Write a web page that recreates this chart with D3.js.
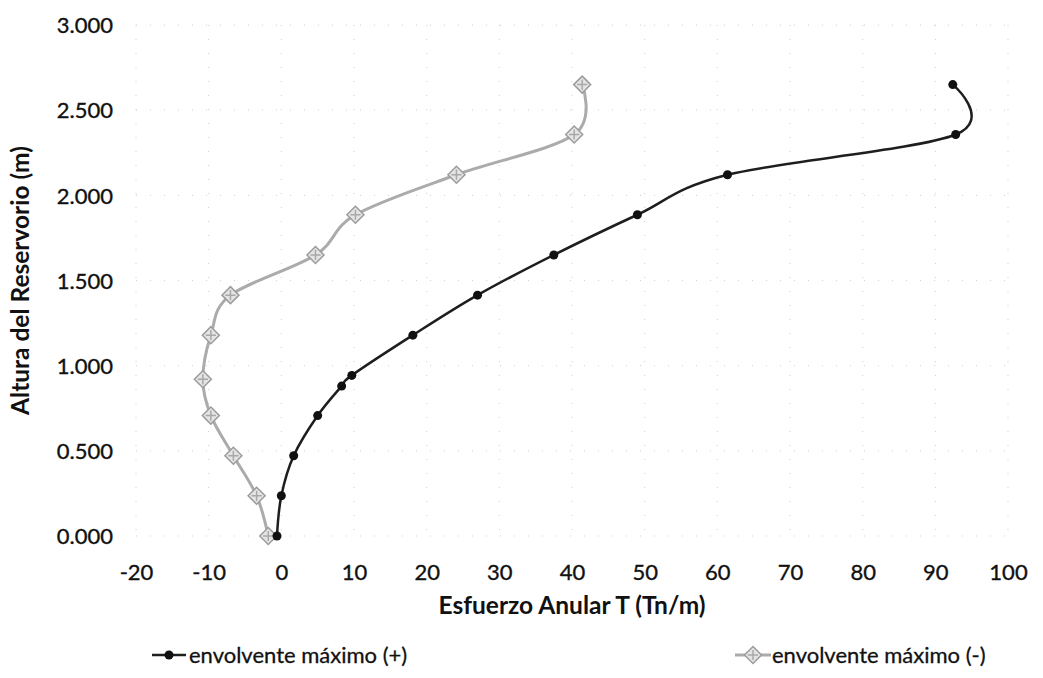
<!DOCTYPE html>
<html>
<head>
<meta charset="utf-8">
<script src="https://cdn.jsdelivr.net/npm/d3@7/dist/d3.min.js"></script>
<style>
  html, body { margin: 0; padding: 0; background: #fff; }
  svg { display: block; }
  text { font-family: Lato, "Open Sans", sans-serif; fill: #111; }
</style>
</head>
<body>
<svg id="chart" width="1043" height="678"></svg>
<script>
// ---- data ----
const heightsPos = [0, 0.236, 0.471, 0.707, 0.88, 0.943, 1.179, 1.414, 1.65, 1.886, 2.121, 2.357, 2.65];
const tensionPos = [-0.6, 0.0, 1.7, 5.0, 8.3, 9.7, 18.1, 27.0, 37.5, 49.0, 61.4, 92.8, 92.4];

const heightsNeg = [0, 0.236, 0.471, 0.707, 0.92, 1.179, 1.414, 1.65, 1.886, 2.121, 2.357, 2.65];
const tensionNeg = [-1.8, -3.4, -6.6, -9.7, -10.8, -9.7, -7.0, 4.7, 10.2, 24.1, 40.3, 41.4];

const xTicks = [-20, -10, 0, 10, 20, 30, 40, 50, 60, 70, 80, 90, 100];
const yTicks = [0, 0.5, 1.0, 1.5, 2.0, 2.5, 3.0];

const seriesNames = ["envolvente máximo (+)", "envolvente máximo (-)"];
const xTitle = "Esfuerzo Anular T (Tn/m)";
const yTitle = "Altura del Reservorio (m)";

// ---- layout ----
const svg = d3.select("#chart");
const mLeft = 136, mRight = 1008, mTop = 25, mBottom = 536;

const x = d3.scaleLinear().domain([-20, 100]).range([mLeft, mRight]);
const y = d3.scaleLinear().domain([0, 3]).range([mBottom, mTop]);

// faint dotted gridlines (scan shows them barely)
const grid = svg.append("g");
grid.selectAll("line.h").data(yTicks).enter().append("line")
  .attr("x1", mLeft).attr("x2", mRight)
  .attr("y1", d => y(d)).attr("y2", d => y(d))
  .attr("stroke", "#cfcfcf").attr("stroke-width", 1)
  .attr("stroke-dasharray", "1,13");
grid.selectAll("line.v").data(xTicks).enter().append("line")
  .attr("y1", mTop).attr("y2", mBottom)
  .attr("x1", d => x(d)).attr("x2", d => x(d))
  .attr("stroke", "#cfcfcf").attr("stroke-width", 1)
  .attr("stroke-dasharray", "1,13");

// axes via d3 axis generators, with lines hidden
const fmtY = d3.format(".3f");
const fmtX = d => String(d);
const xAxis = svg.append("g").attr("transform", `translate(0,${mBottom})`)
  .call(d3.axisBottom(x).tickValues(xTicks).tickSize(0).tickPadding(0).tickFormat(fmtX));
xAxis.select(".domain").remove();
xAxis.selectAll("text").attr("font-size", 22).attr("dy", 0).attr("y", 44)
  .style("font-family", "Lato, sans-serif").attr("fill", "#111")
  .attr("stroke", "#111").attr("stroke-width", 0.35);

const yAxis = svg.append("g").attr("transform", `translate(${mLeft},0)`)
  .call(d3.axisLeft(y).tickValues(yTicks).tickSize(0).tickPadding(0).tickFormat(fmtY));
yAxis.select(".domain").remove();
yAxis.selectAll("text").attr("font-size", 22).attr("x", -23).attr("dy", "0.35em")
  .style("font-family", "Lato, sans-serif").attr("fill", "#111")
  .attr("stroke", "#111").attr("stroke-width", 0.35);

// axis titles
svg.append("text").attr("x", 572).attr("y", 614).attr("text-anchor", "middle")
  .attr("font-size", 24.5).attr("font-weight", "bold").text(xTitle);
svg.append("text").attr("transform", `translate(29,${(mTop + mBottom) / 2}) rotate(-90)`)
  .attr("text-anchor", "middle").attr("font-size", 24.5).attr("font-weight", "bold").text(yTitle);

// series
const line = d3.line().curve(d3.curveCardinal.tension(0));
const negPts = heightsNeg.map((h, i) => [x(tensionNeg[i]), y(h)]);
const posPts = heightsPos.map((h, i) => [x(tensionPos[i]), y(h)]);

svg.append("path").attr("d", line(negPts)).attr("fill", "none")
  .attr("stroke", "#ababab").attr("stroke-width", 3);
svg.append("path").attr("d", line(posPts)).attr("fill", "none")
  .attr("stroke", "#1e1e1e").attr("stroke-width", 2.5);

function starMarker(g, cx, cy, s) {
  const grp = g.append("g").attr("transform", `translate(${cx},${cy})`);
  grp.append("path").attr("d", `M0,${-s} L${s},0 L0,${s} L${-s},0 Z`)
    .attr("fill", "#e4e4e4").attr("stroke", "#9c9c9c").attr("stroke-width", 1.5);
  grp.append("path").attr("d", `M${-s*0.6},0 L${s*0.6},0 M0,${-s*0.6} L0,${s*0.6}`)
    .attr("stroke", "#a8a8a8").attr("stroke-width", 1.5);
}

const negMarkers = svg.append("g");
negPts.forEach(p => starMarker(negMarkers, p[0], p[1], 8.5));

svg.append("g").selectAll("circle").data(posPts).enter().append("circle")
  .attr("cx", d => d[0]).attr("cy", d => d[1]).attr("r", 4.5)
  .attr("fill", "#111");

// legend
const lg = svg.append("g");
const legY = 655;
const legItems = [
  { x0: 152, name: seriesNames[0], type: "pos" },
  { x0: 735, name: seriesNames[1], type: "neg" }
];
legItems.forEach(it => {
  if (it.type === "pos") {
    lg.append("line").attr("x1", it.x0).attr("x2", it.x0 + 34).attr("y1", legY).attr("y2", legY)
      .attr("stroke", "#1e1e1e").attr("stroke-width", 2.5);
    lg.append("circle").attr("cx", it.x0 + 17).attr("cy", legY).attr("r", 4.5).attr("fill", "#111");
  } else {
    lg.append("line").attr("x1", it.x0).attr("x2", it.x0 + 36).attr("y1", legY).attr("y2", legY)
      .attr("stroke", "#ababab").attr("stroke-width", 3);
    starMarker(lg, it.x0 + 18, legY, 8.5);
  }
  lg.append("text").attr("x", it.x0 + 37).attr("y", legY).attr("dy", "0.35em")
    .attr("font-size", 22).attr("stroke", "#111").attr("stroke-width", 0.3).text(it.name);
});
</script>
</body>
</html>
